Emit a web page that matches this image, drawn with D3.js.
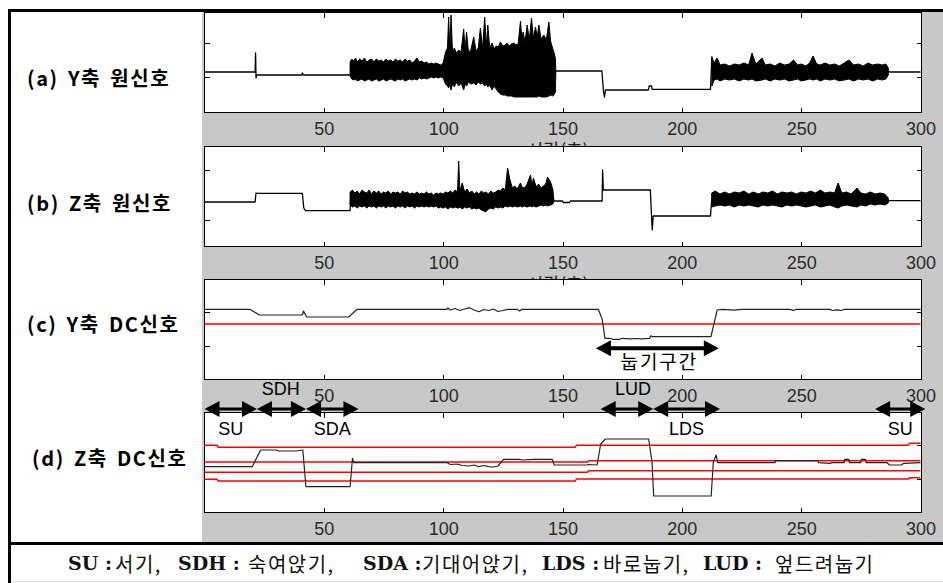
<!DOCTYPE html>
<html>
<head>
<meta charset="utf-8">
<script src="https://cdn.jsdelivr.net/npm/d3@7"></script>
<style>
  body { margin: 0; background: #fff; }
  svg { display: block; }
</style>
</head>
<body>
<div id="chart"></div>
<script>
// ---- data (x: time axis 0..300, y: arbitrary sensor units) ----
var xTicks = [50, 100, 150, 200, 250, 300];
var panelNames = ["(a) Y축 원신호", "(b) Z축 원신호", "(c) Y축 DC신호", "(d) Z축 DC신호"];
var yTicksA = [19, -15];
var yTicksB = [26, -24];
var yTicksC = [17, -17];
var yTicksD = [17, -17];

// (a) Y raw signal: quiet parts as a line, bursts as [x, low, high] envelopes
var rawYLine = [[0,-10],[21.2,-10],[21.4,9],[21.6,-16],[21.8,-13],[40.8,-13],[41,-11],[41.4,-13],[61,-13],
  [101,-9],[147.2,-9],[166.5,-9],[167.2,-30],[167.6,-35],[168,-28],[186,-28],[186.3,-24],[187.3,-24],
  [187.6,-27.3],[212,-27.3],[212.6,5],[213,-9],[286.5,-9],[287,-10],[300,-10]];
var rawYBurst1 = [[61,-14,0],[61.7,-17,3],[62.5,-18,1],[63.3,-17,4],[64,-19,0],[65,-18,3],[66,-17,1],[67,-19,4],
  [68,-18,0],[69,-17,2],[70,-19,3],[71,-18,0],[72,-17,3],[73,-19,1],[74,-18,2],[75,-17,0],[76,-19,3],[77,-18,1],
  [78,-17,2],[79,-18,0],[80,-19,3],[81,-17,1],[82,-18,2],[83,-17,0],[84,-19,3],[85,-18,1],[86,-17,2],[87,-18,-1],
  [88,-17,1],[89,-18,4],[90,-16,0],[91,-17,1],[92,-16,-1],[93,-17,0],[94,-16,-2],[95,-15,-1],[96,-16,-2],
  [97,-15,-1],[98,-16,-2],[99,-15,-3],[100,-16,-1],[101,-22,10]];
var rawYBurst2 = [[101,-22,10],[101.8,-24,14],[102.3,-26,45],[102.8,-22,12],[103.3,-28,47],[103.9,-22,10],
  [104.7,-25,14],[105.5,-20,9],[106.5,-24,12],[107.5,-21,10],[108.6,-28,33],[109.2,-22,12],[109.8,-24,30],
  [110.6,-20,10],[111.6,-22,12],[112.8,-21,25],[113.8,-23,11],[114.7,-20,14],[115.6,-22,34],[116.5,-21,13],
  [117.4,-24,45],[118.1,-22,15],[118.7,-25,37],[119.5,-23,14],[120.5,-28,19],[121.3,-24,13],[122.2,-27,16],
  [123.1,-30,15],[124,-32,20],[125,-33,16],[126,-33,17],[126.8,-34,19],[127.7,-34,16],[128.6,-34,18],
  [129.6,-35,19],[130.5,-35,17],[131.4,-35,18],[132.4,-35,41],[133,-35,22],[133.5,-35,30],[134.3,-35,20],
  [135.2,-35,37],[136.1,-35,22],[137,-35,44],[137.8,-35,24],[138.7,-35,35],[139.4,-35,25],[140.1,-34,37],
  [141,-35,23],[142.2,-35,27],[143.2,-35,22],[144.3,-34,40],[145,-33,21],[145.7,-34,15],[146.4,-33,10],
  [147,-30,4],[147.2,-12,-8]];
var rawYBurst3 = [[212.6,-24,5],[213.5,-18,-1],[214.8,-17,4],[216,-19,-3],[218,-17,-2],[220,-18,-4],[222,-17,-2],
  [224,-19,-3],[226,-17,-1],[228,-18,-3],[229.4,-17,9],[231,-19,-2],[233.6,-18,4],[235,-17,-3],[237,-19,-2],
  [239,-17,-4],[241,-18,-1],[243,-17,-3],[245,-19,-2],[246.8,-18,2],[248.5,-17,-3],[250,-19,-2],[252,-18,-4],
  [253.5,-17,-1],[255,-18,6],[256.5,-17,-2],[258,-19,-3],[260,-17,-1],[262,-18,-3],[264,-17,-2],[266,-19,-4],
  [268,-18,-1],[270,-17,2],[272,-19,-3],[274,-17,-2],[276,-18,-4],[278,-17,-1],[280,-19,-3],[282,-17,-2],
  [284,-18,-3],[285.5,-17,-2],[286.5,-13,-6]];

// (b) Z raw signal
var rawZLine = [[0,-6],[21.2,-6],[21.4,-1],[21.6,3],[21.8,2.7],[41,2.7],[41.6,-12],[42.3,-14.7],[61,-14.7],
  [61.2,-3],[146.2,-3],[146.5,-5],[150,-5],[150.3,-6.5],[153,-6.5],[153.3,-5],[166.6,-5],[166.8,26],[167.1,6],
  [186.8,6],[187.3,-20],[187.6,-34],[188,-20],[212,-20],[212.5,-4],[286.5,-4.7],[300,-4.7]];
var rawZBurst1 = [[61,-9,4],[62,-11,6],[63,-10,3],[64,-12,5],[65,-10,2],[66,-11,6],[67,-10,4],[68,-12,3],
  [69,-10,6],[70,-11,2],[71,-10,5],[72,-12,3],[73,-10,5],[74,-11,2],[75,-10,4],[76,-12,3],[77,-10,5],[78,-11,2],
  [79,-10,4],[80,-12,3],[81,-10,4],[82,-11,2],[83,-10,5],[84,-12,3],[85,-10,4],[86,-11,2],[87,-10,3],[88,-12,2],
  [89,-10,4],[90,-11,2],[91,-10,3],[92,-11,2],[93,-10,4],[94,-11,2],[95,-10,3],[96,-11,1],[97,-10,3],[98,-12,2],
  [99,-11,3],[100,-12,2],[101,-11,4],[102,-13,3],[103,-11,5],[104,-12,3],[105,-11,6],[106,-12,4],[106.5,-12,35],
  [107,-11,5],[108,-13,13],[109,-11,4],[110,-12,7],[111,-11,3],[112,-13,5],[113,-12,2],[114,-13,4],[115,-12,2],
  [116,-14,5],[117,-15,3],[117.8,-16,4],[119,-13,2],[120,-12,5],[121,-13,3],[122,-11,4],[123,-12,6],[124,-11,5],
  [125,-12,8],[126,-10,6],[127,-11,28],[128,-10,16],[129,-11,8],[130,-10,10],[131,-11,7],[132.4,-10,13],
  [133,-11,9],[134,-10,8],[135,-11,11],[136.6,-10,21],[137.2,-11,10],[137.8,-10,18],[139,-11,9],[140,-10,12],
  [141,-9,8],[142,-10,10],[143,-9,12],[143.7,-10,19],[145,-9,14],[146,-8,6],[146.3,-5,-3]];
var rawZBurst2 = [[212.5,-11,3],[214,-10,5],[216,-9,2],[218,-10,4],[220,-9,2],[222,-11,4],[224,-9,3],[226,-10,5],
  [228,-9,2],[230,-10,4],[232,-11,2],[234,-9,4],[236,-10,3],[238,-9,5],[240,-10,2],[242,-11,4],[244,-9,3],
  [246,-10,4],[248,-9,2],[250,-10,4],[252,-11,3],[254,-10,5],[256,-9,3],[258,-11,6],[260,-10,3],[262,-9,4],
  [264,-11,3],[265.5,-12,13],[267,-10,3],[269,-9,4],[271,-10,2],[273.4,-11,8],[275,-9,3],[277,-10,2],[279,-8,4],
  [281,-9,2],[283,-8,3],[285,-9,2],[286.5,-7,-2]];

// (c) Y DC signal and its threshold
var dcY = [[0,19.7],[19,19.7],[23,14],[41,14],[41.5,18],[42.8,12],[60.4,12],[64,19.7],[101.5,19.7],[102,21],
  [103,19],[105,20.5],[107,18.5],[109,20],[111,21.3],[113,19],[115,17.3],[117,19.5],[119,18.5],[121,20],[123,17.5],
  [125,18.5],[127,19.7],[131,19.7],[132,18],[133,19.7],[165,19.7],[166.6,10],[167.8,-9.3],[170,-9.3],[171,-10.3],
  [174,-10.3],[175,-9.3],[178,-9.8],[181,-9.5],[183,-9.8],[186.5,-9.3],[187,-6.7],[187.8,-7.7],[212.2,-7.7],
  [214.8,19],[217,19.7],[222,18.8],[225,19.7],[245,19.7],[247,18.7],[248,19.7],[262,19.7],[263,18.5],[265,19.2],
  [267,18.5],[268,19.7],[300,19.7]];
var dcYThreshold = [[0,5],[300,5]];

// (d) Z DC signal and its four thresholds
var dcZ = [[0,-4.7],[20,-4.7],[23.5,12],[30,12],[31,11],[38,11],[41.2,12],[42.5,-24.7],[61,-24.7],[62,3.7],
  [62.6,-0.7],[101.7,-0.7],[103,-2.5],[106,-2],[108,-3.5],[111,-4],[113,-3],[115,-4.7],[117,-3.5],[119,-4.7],
  [121,-5],[123,-4],[125.3,2.7],[132,2.7],[133,2],[138,2.7],[145.7,2.7],[146.5,-3],[160,-3],[161,-2.5],[164.5,-3],
  [166,18],[168,23],[186.1,23],[187.5,0],[188.2,-34],[212.3,-34],[213.2,0.3],[214.4,7],[215,-0.7],[239,-0.7],
  [239.3,1.3],[257,1.3],[257.3,-0.7],[262,-1.3],[263,-0.7],[268,-0.7],[268.2,2.7],[270,2.7],[270.2,-0.7],
  [275,-0.7],[275.2,2.7],[277,2.7],[277.2,-0.7],[286,-0.7],[287,-3],[292,-3],[293,-1.3],[300,-0.7]];
var dcZThr1 = [[0,16.7],[5.3,16.7],[5.6,14.7],[155.4,14.7],[155.8,16.7],[295,16.7],[295.4,18.7],[300,18.7]];
var dcZThr2 = [[0,0],[160.5,0],[161,1.3],[300,1.3]];
var dcZThr3 = [[0,-10.3],[160.5,-10.3],[161,-8.7],[300,-8.7]];
var dcZThr4 = [[0,-17.3],[5.3,-17.3],[5.6,-19],[155.4,-19],[155.8,-17],[295,-17],[295.4,-15.7],[300,-15.7]];

// posture segments marked with double arrows between (c) and (d)
var segNames = ["SU", "SDH", "SDA", "LUD", "LDS", "SU"];
var segStart = [0, 22, 42.5, 166, 188, 281];
var segEnd = [22, 42.5, 64.5, 188, 216, 302];
var segLabelX = [11, 32, 53.5, 179.5, 202, 291.5];
var segAbove = [false, true, false, true, false, false];

// lying interval in (c)
var lieName = "눕기구간";
var lieRange = [164, 215.5];
var lieLevel = -19.3;

var xLabel = "시간(초)";

// legend text pieces: [text, isLatin]
var legendParts = [
  ["SU :", true], ["서기,", false], ["SDH :", true], ["숙여앉기,", false],
  ["SDA :", true], ["기대어앉기,", false], ["LDS :", true], ["바로눕기,", false],
  ["LUD :", true], ["엎드려눕기", false]
];

// ---- layout ----
var W = 943, H = 583;
var plotL = 204.5, plotR = 921.5, panelH = 100;
var layout = [
  {top: 12, labelX: 27, labelY: 77, ticks: yTicksA},
  {top: 146, labelX: 27, labelY: 202, ticks: yTicksB},
  {top: 279, labelX: 27, labelY: 323, ticks: yTicksC},
  {top: 412, labelX: 32, labelY: 457, ticks: yTicksD}
];
var legendX = [68, 115, 178, 248, 363, 422, 542, 603, 703, 775];

var svg = d3.select("#chart").append("svg")
  .attr("width", W)
  .attr("height", H)
  .style("font-family", "'Liberation Sans', Arial, sans-serif");

// frame and grey figure background
svg.append("rect").attr("x", 0).attr("y", 0).attr("width", W).attr("height", H).attr("fill", "#fff");
svg.append("rect").attr("x", 202).attr("y", 11).attr("width", W - 202).attr("height", 531).attr("fill", "#c8c8c8");
svg.append("rect").attr("x", 8).attr("y", 9).attr("width", W - 8).attr("height", 3).attr("fill", "#000");
svg.append("rect").attr("x", 8).attr("y", 9).attr("width", 3).attr("height", H - 9).attr("fill", "#000");
svg.append("rect").attr("x", 8).attr("y", 542).attr("width", W - 8).attr("height", 3).attr("fill", "#000");
svg.append("rect").attr("x", 11).attr("y", 581).attr("width", W - 11).attr("height", 1).attr("fill", "#e2e2e2");

var x = d3.scaleLinear().domain([0, 300]).range([plotL, plotR - 1]);

var ys = layout.map(function(p) {
  return d3.scaleLinear().domain([-50, 50]).range([p.top + panelH, p.top]);
});

// x-label text of the two top panels, mostly hidden under the next axes
[0, 1].forEach(function(i) {
  svg.append("text")
    .attr("x", x(148))
    .attr("y", layout[i].top + panelH + 45)
    .attr("text-anchor", "middle")
    .style("font-family", "'Noto Sans CJK KR', sans-serif")
    .style("font-size", "18px")
    .attr("fill", "#222")
    .text(xLabel);
});

layout.forEach(function(p, i) {
  var y = ys[i];
  var g = svg.append("g");

  g.append("rect")
    .attr("x", plotL).attr("y", p.top + 0.5)
    .attr("width", plotR - plotL).attr("height", panelH)
    .attr("fill", "#fff");

  g.append("clipPath").attr("id", "clip" + i)
    .append("rect")
    .attr("x", plotL).attr("y", p.top)
    .attr("width", plotR - plotL).attr("height", panelH);

  var axBottom = g.append("g")
    .attr("transform", "translate(0," + (p.top + panelH + 0.5) + ")")
    .call(d3.axisBottom(x).tickValues(xTicks).tickSize(-5).tickPadding(10));
  var axTop = g.append("g")
    .attr("transform", "translate(0," + (p.top + 0.5) + ")")
    .call(d3.axisTop(x).tickValues(xTicks).tickSize(-5).tickFormat(""));
  var axLeft = g.append("g")
    .attr("transform", "translate(" + plotL + ",0)")
    .call(d3.axisLeft(y).tickValues(p.ticks).tickSize(-5).tickFormat(""));
  var axRight = g.append("g")
    .attr("transform", "translate(" + plotR + ",0)")
    .call(d3.axisRight(y).tickValues(p.ticks).tickSize(-5).tickFormat(""));

  [axBottom, axTop, axLeft, axRight].forEach(function(a) {
    a.select(".domain").remove();
    a.selectAll("line").attr("stroke", "#000").attr("shape-rendering", "crispEdges");
  });
  axBottom.selectAll("text")
    .style("font-size", "18px")
    .style("font-family", "'Liberation Sans', Arial, sans-serif")
    .attr("fill", "#2a2a2a");

  g.append("rect")
    .attr("x", plotL).attr("y", p.top + 0.5)
    .attr("width", plotR - plotL).attr("height", panelH)
    .attr("fill", "none").attr("stroke", "#000").attr("stroke-width", 1)
    .attr("shape-rendering", "crispEdges");

  // left-hand panel title
  svg.append("text")
    .attr("x", p.labelX)
    .attr("y", p.labelY)
    .attr("dominant-baseline", "central")
    .style("font-family", "'Noto Sans CJK KR', sans-serif")
    .style("font-weight", "bold")
    .style("font-size", "20px")
    .style("letter-spacing", "1.6px")
    .style("word-spacing", "3px")
    .attr("fill", "#000")
    .text(panelNames[i]);
});

function drawLine(i, data, color, width) {
  var y = ys[i];
  svg.append("path")
    .datum(data)
    .attr("clip-path", "url(#clip" + i + ")")
    .attr("fill", "none")
    .attr("stroke", color)
    .attr("stroke-width", width)
    .attr("stroke-linejoin", "round")
    .attr("d", d3.line().x(function(d) { return x(d[0]); }).y(function(d) { return y(d[1]); }));
}

function drawBurst(i, data) {
  var y = ys[i];
  svg.append("path")
    .datum(data)
    .attr("clip-path", "url(#clip" + i + ")")
    .attr("fill", "#000")
    .attr("stroke", "#000")
    .attr("stroke-width", 1)
    .attr("d", d3.area()
      .x(function(d) { return x(d[0]); })
      .y0(function(d) { return y(d[1]); })
      .y1(function(d) { return y(d[2]); }));
}

// (a)
drawLine(0, rawYLine, "#000", 1.3);
drawBurst(0, rawYBurst1);
drawBurst(0, rawYBurst2);
drawBurst(0, rawYBurst3);
// (b)
drawLine(1, rawZLine, "#000", 1.3);
drawBurst(1, rawZBurst1);
drawBurst(1, rawZBurst2);
// (c)
drawLine(2, dcYThreshold, "#f00", 1.5);
drawLine(2, dcY, "#222", 1.2);
// (d)
[dcZThr1, dcZThr2, dcZThr3, dcZThr4].forEach(function(t) { drawLine(3, t, "#f00", 1.5); });
drawLine(3, dcZ, "#222", 1.2);

// double arrow helper (pixel geometry of heads only)
function doubleArrow(x1, x2, yy, head, half, thick) {
  var g = svg.append("g");
  g.append("line")
    .attr("x1", x1 + head - 1).attr("x2", x2 - head + 1)
    .attr("y1", yy).attr("y2", yy)
    .attr("stroke", "#000").attr("stroke-width", thick);
  g.append("path")
    .attr("d", "M" + x1 + "," + yy + "L" + (x1 + head) + "," + (yy - half) + "L" + (x1 + head) + "," + (yy + half) + "Z")
    .attr("fill", "#000");
  g.append("path")
    .attr("d", "M" + x2 + "," + yy + "L" + (x2 - head) + "," + (yy - half) + "L" + (x2 - head) + "," + (yy + half) + "Z")
    .attr("fill", "#000");
}

// lying interval annotation in (c)
var lieY = ys[2](lieLevel);
doubleArrow(x(lieRange[0]), x(lieRange[1]), lieY, 15, 8, 4);
svg.append("text")
  .attr("x", x((lieRange[0] + lieRange[1]) / 2) + 2)
  .attr("y", lieY + 21)
  .attr("text-anchor", "middle")
  .style("font-family", "'Noto Sans CJK KR', sans-serif")
  .style("font-size", "19px")
  .style("letter-spacing", "2px")
  .attr("fill", "#000")
  .text(lieName);

// posture segments
var segY = layout[3].top - 3;
segNames.forEach(function(name, k) {
  doubleArrow(x(segStart[k]), x(segEnd[k]), segY, 15, 8, 3);
  svg.append("text")
    .attr("x", x(segLabelX[k]))
    .attr("y", segAbove[k] ? segY - 20 : segY + 20)
    .attr("text-anchor", "middle")
    .attr("dominant-baseline", "central")
    .style("font-size", "18px")
    .attr("fill", "#000")
    .text(name);
});

// legend line at the bottom
var legend = svg.append("text")
  .attr("y", 563)
  .attr("dominant-baseline", "central")
  .attr("fill", "#111");
legendParts.forEach(function(p, k) {
  legend.append("tspan")
    .attr("x", legendX[k])
    .style("font-family", p[1] ? "'DejaVu Serif', serif" : "'Noto Sans CJK KR', sans-serif")
    .style("font-weight", p[1] ? "bold" : "normal")
    .style("font-size", p[1] ? "19px" : "20px")
    .style("letter-spacing", p[1] ? "0px" : "1.5px")
    .text(p[0]);
});
</script>
</body>
</html>
